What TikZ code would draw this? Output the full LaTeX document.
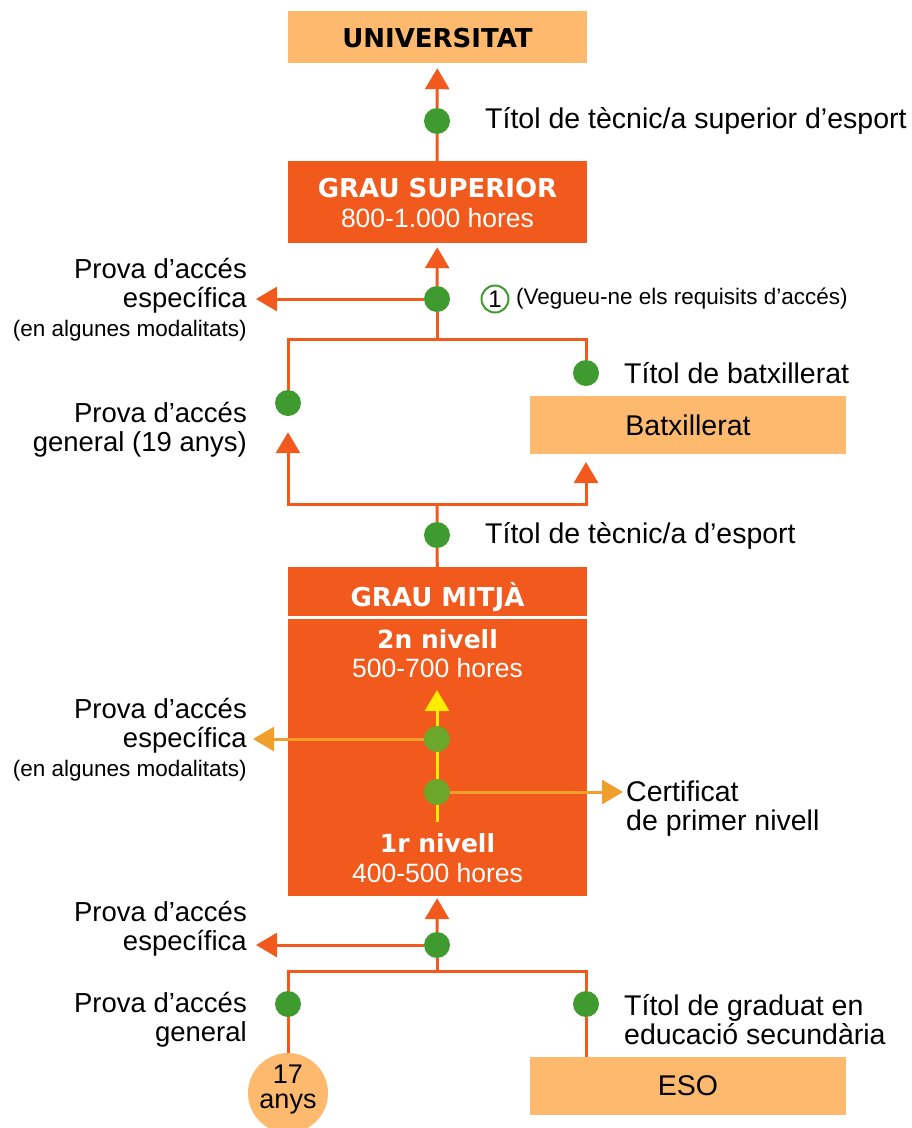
\documentclass[tikz,border=0pt]{standalone}
\usepackage{fontspec}
\setmainfont{Liberation Sans}
\newfontfamily\headfont{DejaVu Sans}
\usepackage{xcolor}
\usetikzlibrary{arrows.meta}
\definecolor{fosc}{HTML}{F15A1C}
\definecolor{clar}{HTML}{FDBA6F}
\definecolor{verd}{HTML}{3F9B2F}
\definecolor{verdclar}{HTML}{6AA72A}
\definecolor{groc}{HTML}{FFEC00}
\definecolor{taronja}{HTML}{EF9F2C}
\begin{document}
\begin{tikzpicture}[x=1pt,y=-1pt]
      \def\lblfont{\fontsize{27.5}{29}\selectfont}
      \def\dretfont{\fontsize{28.5}{29}\selectfont}
      \def\petita{\fontsize{22.5}{26}\selectfont}
      \def\titfont{\headfont\bfseries\fontsize{26}{28}\selectfont}
      \def\horfont{\fontsize{26.5}{28}\selectfont}

      \tikzset{caixa/.style={rectangle,fill=clar,inner sep=0pt,minimum width=316pt,minimum height=58pt,font=\dretfont}}
      \tikzset{fosca/.style={rectangle,fill=fosc,inner sep=0pt,minimum width=299pt}}
      \tikzset{tit/.style={inner sep=0pt,text=white,font=\titfont}}
      \tikzset{hores/.style={inner sep=0pt,text=white,font=\horfont}}
      \tikzset{punt/.style={circle,fill=verd,inner sep=0pt,minimum size=26pt}}
      \tikzset{puntclar/.style={circle,fill=verdclar,inner sep=0pt,minimum size=26pt}}
      \tikzset{lbl/.style={inner sep=0pt,anchor=west,align=left,font=\dretfont}}
      \tikzset{lblr/.style={inner sep=0pt,anchor=east,align=right,font=\lblfont}}
      \tikzset{linia/.style={draw=fosc,line width=3pt}}
      \tikzset{fletxa/.style={linia,-{Triangle[width=24pt,length=21pt]}}}

      \useasboundingbox (0,0) rectangle (911,1128);

      \node[caixa,minimum width=299pt,minimum height=52pt] (univ) at (437.5,37) {};
      \node[inner sep=0pt,font=\headfont\bfseries\fontsize{26}{28}\selectfont] (univt) at (437.5,38) {UNIVERSITAT};

      \node[punt] (dsup) at (437,121) {};
      \node[lbl] (tsup) at (485,121) {Títol de tècnic/a superior d’esport};

      \node[fosca,minimum height=82pt] (gsup) at (437.5,202) {};
      \node[tit] (gsupt) at (437.5,188) {GRAU SUPERIOR};
      \node[hores] (gsuph) at (437.5,218) {800-1.000 hores};

      \node[punt] (dacc) at (437,299) {};
      \coordinate (accl) at (256,299);
      \node[lblr] (accsup) at (247,300) {Prova d’accés\\específica\\{\petita(en algunes modalitats)}};
      \node[circle,draw=verd,line width=2pt,inner sep=0pt,minimum size=27pt,font=\fontsize{24}{26}\selectfont] (nota) at (495,299) {1};
      \node[lbl,font=\petita] (notat) at (516,299) {(Vegueu-ne els requisits d’accés)};

      \coordinate (b1) at (437,339);
      \node[punt] (dbat) at (586,373) {};
      \node[lbl] (tbat) at (624,373) {Títol de batxillerat};
      \node[caixa] (bat) at (688,425) {Batxillerat};
      \node[punt] (dgen) at (288,403) {};
      \node[lblr] (gen19) at (247,430) {Prova d’accés\\general (19 anys)};
      \coordinate (batin) at (586,462);

      \coordinate (b2) at (437,504);
      \node[punt] (dtec) at (437,535) {};
      \node[lbl] (ttec) at (485,536) {Títol de tècnic/a d’esport};

      \node[fosca,minimum height=49pt] (gmit) at (437.5,591.5) {};
      \node[tit] (gmitt) at (437.5,597) {GRAU MITJÀ};
      \node[fosca,minimum height=277pt] (gmcos) at (437.5,757.5) {};
      \node[tit,font=\headfont\bfseries\fontsize{25}{28}\selectfont] (niv2) at (437.5,639) {2n nivell};
      \node[hores] (niv2h) at (437.5,668) {500-700 hores};
      \node[tit,font=\headfont\bfseries\fontsize{25}{28}\selectfont] (niv1) at (437.5,843) {1r nivell};
      \node[hores] (niv1h) at (437.5,873) {400-500 hores};
      \coordinate (ytop) at (437,690);
      \coordinate (ybot) at (437,822);
      \node[puntclar] (d2) at (437,739) {};
      \node[puntclar] (d1) at (437,792) {};
      \coordinate (espl) at (253,739);
      \coordinate (certr) at (623,792);
      \node[lblr] (accmit) at (247,740) {Prova d’accés\\específica\\{\petita(en algunes modalitats)}};
      \node[lbl] (cert) at (626,809) {Certificat\\de primer nivell};

      \node[punt] (dbot) at (437,945) {};
      \coordinate (botl) at (256,945);
      \node[lblr] (accbot) at (247,929) {Prova d’accés\\específica};
      \coordinate (b3) at (437,971);
      \node[punt] (dgen2) at (288,1004) {};
      \node[punt] (deso) at (586,1004) {};
      \node[lblr] (gen17) at (247,1020) {Prova d’accés\\general};
      \node[lbl] (tgrad) at (624,1020) {Títol de graduat en\\educació secundària};
      \node[circle,fill=clar,inner sep=0pt,minimum size=80pt] (edat) at (288,1093) {};
      \node[inner sep=0pt,align=center,font=\fontsize{27}{25}\selectfont] (edatt) at (288,1089) {17\\anys};
      \node[caixa] (eso) at (688,1086) {ESO};

      \draw[fletxa,shorten >=5pt] (dsup) -- (univ);
      \draw[linia] (gsup) -- (dsup);
      \draw[fletxa,shorten >=4pt] (dacc) -- (gsup);
      \draw[fletxa] (dacc) -- (accl);
      \draw[linia] (dacc) -- (b1) -| (dgen);
      \draw[linia] (b1) -| (dbat);
      \draw[fletxa,shorten >=16pt] (b2) -| (dgen);
      \draw[fletxa] (b2) -| (batin);
      \draw[linia] (gmit) -- (dtec) -- (b2);

      \draw[groc,line width=3pt] (ybot) -- (d1) -- (d2);
      \draw[groc,line width=3pt,-{Triangle[width=24pt,length=21pt]}] (d2) -- (ytop);
      \draw[taronja,line width=3pt,-{Triangle[width=24pt,length=21pt]}] (d2) -- (espl);
      \draw[taronja,line width=3pt,-{Triangle[width=24pt,length=21pt]}] (d1) -- (certr);

      \draw[fletxa,shorten >=2pt] (dbot) -- (gmcos);
      \draw[fletxa] (dbot) -- (botl);
      \draw[linia] (dbot) -- (b3) -| (dgen2);
      \draw[linia] (b3) -| (deso);
      \draw[linia] (dgen2) -- (edat);
      \draw[linia] (deso) -- (deso |- eso.north);
\end{tikzpicture}
\end{document}
